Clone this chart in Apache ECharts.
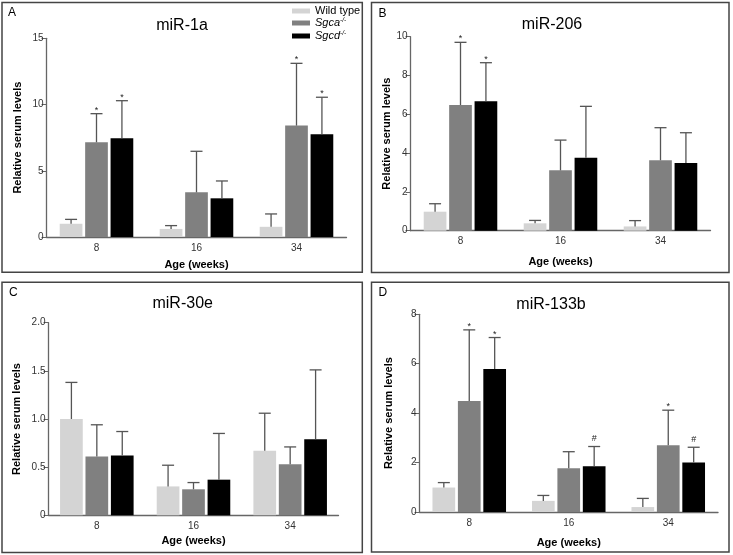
<!DOCTYPE html>
<html><head><meta charset="utf-8">
<script src="https://cdn.jsdelivr.net/npm/echarts@6/dist/echarts.min.js"></script>
<style>html,body{margin:0;padding:0;background:#fff}#c{width:733px;height:555px}</style>
</head><body><div id="c"></div>
<script>
// ---- data ----
const categories = ['8', '16', '34'];
const groupNames = ['Wild type', 'Sgca-/-', 'Sgcd-/-'];
const panelTitles = ['miR-1a', 'miR-206', 'miR-30e', 'miR-133b'];
const panelLetters = ['A', 'B', 'C', 'D'];

// miR-1a
const miR1a_wt = [1.0, 0.61, 0.77];
const miR1a_wt_err = [1.33, 0.86, 1.74];
const miR1a_sgca = [7.15, 3.37, 8.41];
const miR1a_sgca_err = [9.31, 6.47, 13.11];
const miR1a_sgcd = [7.45, 2.92, 7.75];
const miR1a_sgcd_err = [10.29, 4.23, 10.55];
const miR1a_marks_sgca = ['*', '', '*'];
const miR1a_marks_sgcd = ['*', '', '*'];

// miR-206
const miR206_wt = [0.98, 0.38, 0.22];
const miR206_wt_err = [1.39, 0.53, 0.52];
const miR206_sgca = [6.48, 3.11, 3.63];
const miR206_sgca_err = [9.71, 4.67, 5.31];
const miR206_sgcd = [6.67, 3.76, 3.49];
const miR206_sgcd_err = [8.66, 6.41, 5.05];
const miR206_marks_sgca = ['*', '', ''];
const miR206_marks_sgcd = ['*', '', ''];

// miR-30e
const miR30e_wt = [1.0, 0.30, 0.67];
const miR30e_wt_err = [1.38, 0.52, 1.06];
const miR30e_sgca = [0.61, 0.27, 0.53];
const miR30e_sgca_err = [0.94, 0.34, 0.71];
const miR30e_sgcd = [0.62, 0.37, 0.79];
const miR30e_sgcd_err = [0.87, 0.85, 1.51];
const miR30e_marks_sgca = ['', '', ''];
const miR30e_marks_sgcd = ['', '', ''];

// miR-133b
const miR133b_wt = [0.99, 0.45, 0.20];
const miR133b_wt_err = [1.19, 0.67, 0.55];
const miR133b_sgca = [4.49, 1.77, 2.70];
const miR133b_sgca_err = [7.37, 2.44, 4.12];
const miR133b_sgcd = [5.79, 1.85, 2.00];
const miR133b_sgcd_err = [7.06, 2.65, 2.62];
const miR133b_marks_sgca = ['*', '', '*'];
const miR133b_marks_sgcd = ['*', '#', '#'];

const yTicksMax = [15, 10, 2, 8];
const yTicksInterval = [5, 2, 0.5, 2];

// ---- layout / style ----
const FONT = '"Liberation Sans", Arial, Helvetica, sans-serif';
const colors = ['#d4d4d4', '#808080', '#000000'];
const axisColor = '#666';
const errColor = '#555';
const BW = 22.7, GAP = 0.12;

const layout = [
  {left: 46.5, width: 300, top: 38.3, height: 198.7, yNameGap: 23, xNameGap: 22, titleX: 182, titleY: 25.5, letterX: 8, letterY: 13, box: [2, 2.5, 360.3, 269.8]},
  {left: 410.5, width: 300, top: 36.7, height: 194, yNameGap: 16, xNameGap: 25.5, titleX: 552, titleY: 25, letterX: 378.5, letterY: 14, box: [371.5, 2.5, 357.5, 270]},
  {left: 48.5, width: 290, top: 322.7, height: 192.6, yNameGap: 26, xNameGap: 20, titleX: 182.7, titleY: 304, letterX: 9, letterY: 292.5, box: [2, 282.3, 360.3, 270.2]},
  {left: 419.5, width: 298.5, top: 314.3, height: 197.7, yNameGap: 25.5, xNameGap: 25, titleX: 551, titleY: 305, letterX: 378.5, letterY: 293, box: [371.5, 282.3, 357.5, 269.7]}
];

const panelData = [
  {vals: [miR1a_wt, miR1a_sgca, miR1a_sgcd], errs: [miR1a_wt_err, miR1a_sgca_err, miR1a_sgcd_err], marks: [['', '', ''], miR1a_marks_sgca, miR1a_marks_sgcd]},
  {vals: [miR206_wt, miR206_sgca, miR206_sgcd], errs: [miR206_wt_err, miR206_sgca_err, miR206_sgcd_err], marks: [['', '', ''], miR206_marks_sgca, miR206_marks_sgcd]},
  {vals: [miR30e_wt, miR30e_sgca, miR30e_sgcd], errs: [miR30e_wt_err, miR30e_sgca_err, miR30e_sgcd_err], marks: [['', '', ''], miR30e_marks_sgca, miR30e_marks_sgcd]},
  {vals: [miR133b_wt, miR133b_sgca, miR133b_sgcd], errs: [miR133b_wt_err, miR133b_sgca_err, miR133b_sgcd_err], marks: [['', '', ''], miR133b_marks_sgca, miR133b_marks_sgcd]}
];

function errRender(offset, marks) {
  return function (params, api) {
    const cat = api.value(0), v = api.value(1), top = api.value(2);
    const p0 = api.coord([cat, v]);
    const p1 = api.coord([cat, top]);
    const x = p0[0] + offset;
    const children = [
      {type: 'line', shape: {x1: x, y1: p0[1], x2: x, y2: p1[1]}, style: {stroke: errColor, lineWidth: 1.3}},
      {type: 'line', shape: {x1: x - 6, y1: p1[1], x2: x + 6, y2: p1[1]}, style: {stroke: errColor, lineWidth: 1.3}}
    ];
    const m = marks[params.dataIndex];
    if (m) {
      children.push({type: 'text', style: {text: m, x: x, y: p1[1] - (m === '#' ? 7.5 : 3.5),
        align: 'center', verticalAlign: 'middle', textAlign: 'center', textVerticalAlign: 'middle',
        fontSize: 9, fontFamily: FONT, fill: '#222'}});
    }
    return {type: 'group', children: children};
  };
}

const grids = [], xAxes = [], yAxes = [], series = [], graphics = [];
layout.forEach(function (L, i) {
  grids.push({left: L.left, top: L.top, width: L.width, height: L.height, containLabel: false, outerBoundsMode: 'none'});
  xAxes.push({type: 'category', gridIndex: i, data: categories,
    axisLine: {lineStyle: {color: axisColor, width: 1.3}}, axisTick: {show: false},
    axisLabel: {fontSize: 10, color: '#333', margin: 6, fontFamily: FONT},
    name: 'Age (weeks)', nameLocation: 'middle', nameGap: L.xNameGap,
    nameTextStyle: {fontSize: 11, fontWeight: 'bold', color: '#000', fontFamily: FONT}});
  yAxes.push({type: 'value', gridIndex: i, min: 0, max: yTicksMax[i], interval: yTicksInterval[i],
    axisLine: {show: true, lineStyle: {color: axisColor, width: 1.3}},
    axisTick: {show: true, length: 5, lineStyle: {color: axisColor, width: 1}},
    splitLine: {show: false},
    axisLabel: {fontSize: 10, color: '#333', margin: 3, fontFamily: FONT,
      formatter: function (v) { return (i === 2 && v !== 0) ? v.toFixed(1) : String(v); }},
    name: 'Relative serum levels', nameLocation: 'middle', nameGap: L.yNameGap, nameRotate: 90,
    nameTextStyle: {fontSize: 11, fontWeight: 'bold', color: '#000', fontFamily: FONT}});
  const P = panelData[i];
  for (let s = 0; s < 3; s++) {
    series.push({type: 'bar', name: groupNames[s], xAxisIndex: i, yAxisIndex: i,
      data: P.vals[s], barWidth: BW, barGap: (GAP * 100) + '%',
      itemStyle: {color: colors[s]}, emphasis: {disabled: true}, animation: false});
  }
  for (let s = 0; s < 3; s++) {
    const offset = (s - 1) * BW * (1 + GAP);
    series.push({type: 'custom', xAxisIndex: i, yAxisIndex: i,
      data: P.vals[s].map(function (v, k) { return [k, v, P.errs[s][k]]; }),
      encode: {x: 0, y: 1}, renderItem: errRender(offset, P.marks[s]), z: 3, animation: false, silent: true});
  }
  graphics.push({type: 'rect', shape: {x: L.box[0], y: L.box[1], width: L.box[2], height: L.box[3]},
    style: {fill: 'none', stroke: '#444', lineWidth: 1.5}, silent: true});
  graphics.push({type: 'text', x: L.titleX, y: L.titleY, style: {text: panelTitles[i], fontSize: 16, fontFamily: FONT, fill: '#000',
    align: 'center', verticalAlign: 'middle', textAlign: 'center', textVerticalAlign: 'middle'}});
  graphics.push({type: 'text', x: L.letterX, y: L.letterY, style: {text: panelLetters[i], fontSize: 12, fontFamily: FONT, fill: '#000',
    align: 'left', verticalAlign: 'middle', textAlign: 'left', textVerticalAlign: 'middle'}});
});

const chart = echarts.init(document.getElementById('c'), null, {renderer: 'canvas'});
chart.setOption({
  animation: false,
  backgroundColor: '#fff',
  textStyle: {fontFamily: FONT},
  grid: grids, xAxis: xAxes, yAxis: yAxes, series: series,
  legend: {orient: 'vertical', left: 292, top: 5.5, padding: 0, itemWidth: 18, itemHeight: 5, itemGap: 0,
    icon: 'rect', selectedMode: false, data: groupNames,
    formatter: function (n) {
      if (n === 'Wild type') return '{n|Wild type}';
      return '{i|' + n.slice(0, 4) + '}{s|-/-}';
    },
    textStyle: {fontSize: 11, color: '#000', fontFamily: FONT, lineHeight: 10.5,
      rich: {n: {fontSize: 11, fontFamily: FONT, lineHeight: 10.5},
             i: {fontSize: 11, fontStyle: 'italic', fontFamily: FONT, lineHeight: 10.5},
             s: {fontSize: 6.5, fontStyle: 'italic', fontFamily: FONT, padding: [0, 0, 6, 0], lineHeight: 4}}}},
  graphic: graphics
});
</script></body></html>
